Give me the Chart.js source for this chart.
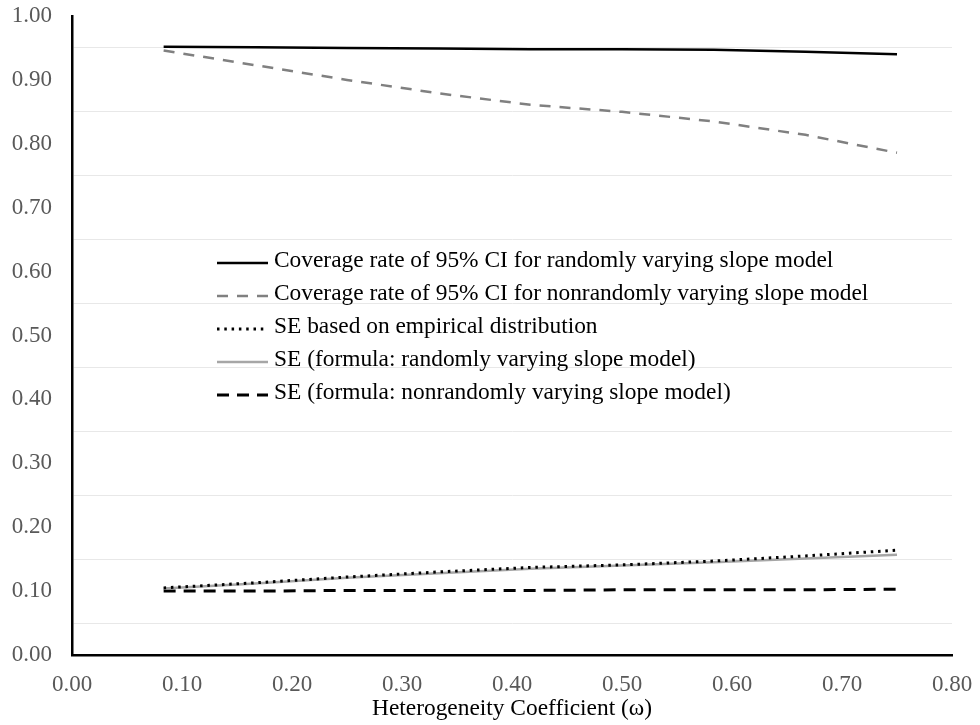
<!DOCTYPE html>
<html>
<head>
<meta charset="utf-8">
<script src="https://cdn.jsdelivr.net/npm/chart.js@4.4.1/dist/chart.umd.min.js"></script>
<style>
  html, body { margin: 0; padding: 0; background: #fff; }
  #wrap { width: 980px; height: 725px; }
</style>
</head>
<body>
<div id="wrap"><canvas id="chart"></canvas></div>
<script>
// heterogeneity coefficient values (x)
const omega = [0.0833, 0.1667, 0.25, 0.3333, 0.4167, 0.5, 0.5833, 0.6667, 0.75];

// series
const coverRandom    = [0.952, 0.951, 0.950, 0.949, 0.948, 0.948, 0.947, 0.944, 0.940];
const coverNonrandom = [0.946, 0.923, 0.900, 0.879, 0.861, 0.850, 0.835, 0.814, 0.786];
const seEmpirical    = [0.105, 0.113, 0.122, 0.130, 0.137, 0.141, 0.147, 0.155, 0.164];
const seRandom       = [0.104, 0.112, 0.121, 0.128, 0.135, 0.140, 0.145, 0.151, 0.157];
const seNonrandom    = [0.100, 0.100, 0.101, 0.101, 0.101, 0.102, 0.102, 0.102, 0.103];

const labels = [
  'Coverage rate of 95% CI for randomly varying slope model',
  'Coverage rate of 95% CI for nonrandomly varying slope model',
  'SE based on empirical distribution',
  'SE (formula: randomly varying slope model)',
  'SE (formula: nonrandomly varying slope model)'
];

const FONT = '"Liberation Serif", "Times New Roman", serif';

function pts(ys) {
  return omega.map((x, i) => ({ x: x, y: ys[i] }));
}

function series(label, ys, color, width, dash) {
  return {
    label: label,
    data: pts(ys),
    borderColor: color,
    borderWidth: width,
    borderDash: dash,
    pointRadius: 0,
    tension: 0,
    fill: false
  };
}

// legend drawn inside the plot, like the original
const innerLegend = {
  id: 'innerLegend',
  afterDraw(chart) {
    const ctx = chart.ctx;
    const area = chart.chartArea;
    const x0 = area.left + 145;
    let y = area.top + 247;
    ctx.save();
    ctx.font = '23.4px ' + FONT;
    ctx.textBaseline = 'middle';
    chart.data.datasets.forEach(ds => {
      ctx.beginPath();
      ctx.strokeStyle = ds.borderColor;
      ctx.lineWidth = ds.borderWidth;
      ctx.setLineDash(ds.borderDash || []);
      ctx.moveTo(x0, y);
      ctx.lineTo(x0 + 51, y);
      ctx.stroke();
      ctx.setLineDash([]);
      ctx.fillStyle = '#000';
      ctx.fillText(ds.label, x0 + 57, y - 2);
      y += 33;
    });
    ctx.restore();
  }
};

new Chart(document.getElementById('chart'), {
  type: 'line',
  data: {
    datasets: [
      series(labels[0], coverRandom, '#000000', 2.5, []),
      series(labels[1], coverNonrandom, '#808080', 2.5, [11, 9]),
      series(labels[2], seEmpirical, '#000000', 3, [2.5, 4.8]),
      series(labels[3], seRandom, '#a6a6a6', 2.5, []),
      series(labels[4], seNonrandom, '#000000', 3, [12, 8])
    ]
  },
  options: {
    responsive: true,
    maintainAspectRatio: false,
    animation: false,
    layout: { padding: { top: 16, right: 28, left: 0, bottom: 0 } },
    plugins: {
      legend: { display: false },
      tooltip: { enabled: false }
    },
    scales: {
      x: {
        type: 'linear',
        min: 0,
        max: 0.8,
        afterFit: s => { s.height = 70; s.paddingLeft = 0; s.paddingRight = 0; },
        ticks: {
          stepSize: 0.1,
          padding: 8,
          color: '#595959',
          font: { family: FONT, size: 23 },
          callback: v => v.toFixed(2)
        },
        grid: { display: false },
        border: { display: true, color: '#000', width: 2.5 },
        title: {
          display: true,
          text: 'Heterogeneity Coefficient (ω)',
          color: '#000',
          font: { family: FONT, size: 23.4 },
          padding: { top: 0, bottom: 2 }
        }
      },
      y: {
        min: 0,
        max: 1,
        afterFit: s => { s.width = 72; s.paddingTop = 0; s.paddingBottom = 0; },
        ticks: {
          stepSize: 0.05,
          autoSkip: false,
          padding: 20,
          color: '#595959',
          font: { family: FONT, size: 23 },
          callback: v => (Math.round(v * 100) % 10 === 0 ? v.toFixed(2) : '')
        },
        grid: {
          drawTicks: false,
          lineWidth: 1,
          color: c => (c.tick && Math.round(c.tick.value * 100) % 10 === 5 ? '#e8e8e8' : 'rgba(0,0,0,0)')
        },
        border: { display: true, color: '#000', width: 2.5 }
      }
    }
  },
  plugins: [innerLegend]
});
</script>
</body>
</html>
